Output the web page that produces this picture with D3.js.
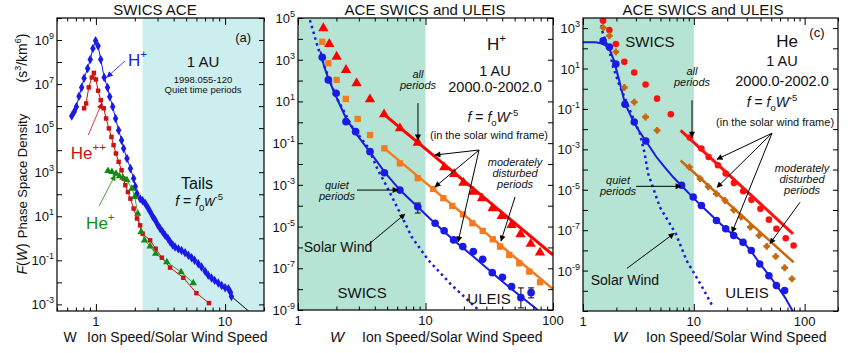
<!DOCTYPE html>
<html lang="en">
<head>
<meta charset="UTF-8"/>
<title>Phase Space Density - ACE SWICS and ULEIS</title>
<script src="https://d3js.org/d3.v7.min.js"></script>
<style>
	body { margin: 0; background: #FFFFFF; }
	svg text { font-family: "Liberation Sans", Arial, sans-serif; fill: #111; }
</style>
</head>
<body>
<div id="chart"></div>
<script>
	// all series: [W, log10 f]

	// panel (a) SWICS ACE
	var aHPlus = [[0.65,5.55],[0.68,5.75],[0.706,5.97],[0.74,6.45],[0.776,6.85],[0.81,7.27],[0.863,7.71],[0.904,8.12],[0.948,8.62],[0.995,8.97],[1.04,8.73],[1.09,8.12],[1.16,7.3],[1.23,6.85],[1.28,6.42],[1.35,5.97],[1.42,5.44],[1.50,4.91],[1.58,4.45],[1.64,4.08],[1.74,3.62],[1.85,3.17],[1.96,2.71],[2.02,2.35],[2.08,2.03],[2.2,1.8],[2.3,1.7],[2.41,1.58],[2.52,1.4],[2.63,1.2],[2.75,1.0],[2.88,0.82],[3.0,0.63],[3.14,0.44],[3.28,0.3],[3.43,0.14],[3.6,0.0],[3.76,-0.17],[3.93,-0.3],[4.1,-0.4],[4.35,-0.48],[4.6,-0.55],[4.9,-0.66],[5.2,-0.77],[5.5,-0.88],[5.8,-1.0],[6.2,-1.15],[6.57,-1.3],[7.0,-1.5],[7.4,-1.68],[7.85,-1.8],[8.3,-1.91],[8.85,-2.03],[9.4,-2.14],[10.0,-2.24],[10.6,-2.29],[11.0,-2.45],[11.2,-2.64]];
	var aHe2 = [[0.81,5.9],[0.84,6.12],[0.88,6.85],[0.93,7.3],[0.965,7.51],[1.0,7.21],[1.04,6.7],[1.09,6.27],[1.15,5.9],[1.2,5.44],[1.26,4.99],[1.32,4.6],[1.37,4.23],[1.43,3.85],[1.5,3.47],[1.58,3.09],[1.64,2.71],[1.69,2.41],[1.77,2.1],[1.85,1.8],[1.96,1.35],[2.08,0.9],[2.2,0.59],[2.3,0.21],[2.63,-0.09],[2.9,-0.47],[3.24,-0.88],[3.75,-1.33],[4.75,-1.79],[6.0,-2.49],[7.5,-2.94]];
	var aHePlus = [[1.24,3.06],[1.33,3.02],[1.43,2.94],[1.52,2.82],[1.62,2.75],[1.74,2.64],[1.9,2.26],[2.0,1.88],[2.11,1.12],[2.24,0.29],[2.38,-0.09],[2.63,-0.36],[2.9,-0.7],[3.54,-1.08],[4.56,-1.53],[5.67,-2.03]];
	var aTail = [[11.2,-2.64],[20,-3.9]];

	// panel (b) H+
	var bQuiet = [[1.55,3.12],[1.73,2.03],[1.99,1.39],[2.38,0.03],[2.83,-0.45],[3.67,-1.41],[4.76,-2.42],[6.3,-3.25],[8.7,-4.05],[11.9,-4.84],[14.0,-5.2],[16.6,-5.64],[19.6,-5.96],[23.7,-6.2],[28.1,-6.57],[33.4,-7.21],[40.1,-7.43],[47.3,-7.88],[56,-8.41],[67.3,-8.17]];
	var bQuietFit = [[1.5,3.4],[1.6,2.7],[1.73,2.1],[2.0,1.2],[2.4,0.15],[2.9,-0.6],[3.7,-1.45],[4.8,-2.4],[6.3,-3.25],[8.5,-4.0],[11.9,-4.85],[17,-5.7],[25,-6.55],[37,-7.45],[52,-8.2],[76,-9.0]];
	var bSolarWind = [[1.24,4.9],[1.43,3.6],[1.72,2.2],[2.0,1.2],[2.65,-0.2],[3.54,-1.2],[4.24,-2.3],[4.8,-2.9],[5.77,-3.87],[6.5,-4.5],[7.8,-5.5],[10.5,-6.6],[16,-7.8],[25,-8.9],[27,-9.1]];
	var bErrors = [[8.7,-4.35,-3.87],[56,-8.9,-7.94],[67.3,-8.42,-7.94]];
	var bModerate = [[1.55,3.86],[1.73,2.83],[2.01,2.03],[2.37,1.12],[2.94,0.16],[3.67,-0.61],[4.76,-1.25],[6.3,-1.97],[8.7,-2.68],[11.5,-3.2],[13.8,-3.64],[16.2,-4.01],[19.7,-4.42],[23.3,-4.84],[28.1,-5.21],[33.7,-5.61],[38.4,-5.96],[45.4,-6.36],[54.4,-6.76],[65.2,-7.16],[79.1,-7.67]];
	var bModerateFit = [[4.76,-1.25],[100,-8.0]];
	var bAll = [[1.58,4.51],[1.76,3.75],[2.01,3.14],[2.38,2.51],[2.88,1.87],[3.67,1.1],[4.73,0.38],[6.3,-0.29],[8.7,-0.98],[14.0,-2.16],[16.8,-2.48],[19.8,-2.9],[23.7,-3.33],[27.7,-3.64],[33.6,-4.12],[39.6,-4.49],[47.3,-4.92],[55.6,-5.37],[66.9,-5.83],[79,-6.25]];
	var bAllFit = [[4.73,0.38],[100,-6.36]];

	// panel (c) He
	var cQuiet = [[1.52,2.37],[1.73,2.07],[1.98,1.22],[2.39,-0.77],[2.9,-1.65],[3.69,-2.59],[7.75,-4.78],[9.88,-5.36],[11.7,-5.78],[16.0,-6.52],[19.4,-6.93],[22.9,-7.26],[27.8,-7.6],[33.0,-8.0],[39.3,-8.67],[47.6,-9.25],[55.6,-9.74],[66.0,-9.99]];
	var cQuietFit = [[1,2.3],[1.3,2.3],[1.45,2.25],[1.6,2.15],[1.75,1.9],[1.9,1.4],[2.1,0.5],[2.4,-0.75],[2.9,-1.7],[3.3,-2.2],[3.7,-2.6],[4.6,-3.38],[5.5,-3.9],[6.5,-4.37],[7.75,-4.8],[9.9,-5.4],[12,-5.85],[16,-6.5],[20,-7.0],[28,-7.6],[33,-8.05],[40,-8.7],[48,-9.25],[56,-9.75],[66,-10.3],[78,-11.0]];
	var cSolarWind = [[1.45,3.45],[1.5,2.8],[1.75,1.75],[1.87,1.08],[2.1,0.26],[2.65,-1.07],[3.26,-2.22],[3.6,-3.2],[3.87,-4.2],[4.94,-5.86],[6.88,-7.18],[8.6,-8.5],[11.7,-9.74],[14.9,-10.8]];
	var cAll = [[1.52,3.36],[1.73,2.9],[1.98,2.21],[2.36,1.33],[2.9,0.8],[3.67,0.21],[4.66,-0.49],[6.2,-1.26],[9.2,-2.42],[11.7,-2.96],[13.6,-3.38],[16.5,-3.79],[19.4,-4.2],[23.0,-4.67],[27.9,-5.07],[33.1,-5.5],[39.9,-5.94],[47.6,-6.48],[55.6,-6.93],[67.5,-7.4],[79.5,-7.76]];
	var cAllFit = [[7.6,-2.06],[78.5,-7.18]];
	var cModerate = [[1.52,3.02],[1.73,2.62],[1.98,1.82],[2.36,0.06],[2.9,-0.66],[3.67,-1.4],[4.66,-2.06],[9.1,-3.88],[11.4,-4.45],[13.5,-4.85],[16,-5.2],[19.1,-5.53],[22.9,-6.0],[26.8,-6.35],[32.4,-6.85],[38.8,-7.26],[45.5,-7.8],[54.8,-8.3],[66,-8.86],[76.8,-9.41]];
	var cModerateFit = [[7.6,-3.55],[79.5,-8.59]];

	// axis tick labels (exponents of 10)
	var aYLabels = [9, 7, 5, 3, 1, -1, -3];
	var bYLabels = [5, 3, 1, -1, -3, -5, -7, -9];
	var cYLabels = [3, 1, -1, -3, -5, -7, -9];
	var aXLabels = [1, 10];
	var bcXLabels = [1, 10, 100];

	var w = 859, h = 353;
	var svg = d3.select("#chart").append("svg").attr("width", w).attr("height", h);

	// arrow heads
	var defs = svg.append("defs");
	[["k", "#000"], ["blue", "#1a1ae6"], ["red", "#cc1111"], ["green", "#138a13"]].forEach(function (m) {
		defs.append("marker").attr("id", "ah-" + m[0])
			.attr("viewBox", "0 0 10 10").attr("refX", 9).attr("refY", 5)
			.attr("markerWidth", 8).attr("markerHeight", 6).attr("markerUnits", "userSpaceOnUse")
			.attr("orient", "auto")
			.append("path").attr("d", "M0,0 L10,5 L0,10 z").attr("fill", m[1]);
	});

	function pow10(v) { return Math.pow(10, v); }

	// sets up one panel: scales, shading, clip
	function makePanel(o) {
		var x = d3.scaleLog().domain(o.xd).range([o.x0, o.x1]);
		var y = d3.scaleLog().domain(o.yd).range([o.y1, o.y0]);
		var g = svg.append("g");
		defs.append("clipPath").attr("id", "clip-" + o.id)
			.append("rect").attr("x", o.x0).attr("y", o.y0).attr("width", o.x1 - o.x0).attr("height", o.y1 - o.y0);
		g.append("rect")
			.attr("x", x(o.shade[0])).attr("y", o.y0)
			.attr("width", x(o.shade[1]) - x(o.shade[0])).attr("height", o.y1 - o.y0)
			.attr("fill", o.shadeColor);
		var plot = g.append("g").attr("clip-path", "url(#clip-" + o.id + ")");
		var p = { o: o, x: x, y: y, g: g, plot: plot };
		p.px = function (d) { return x(d[0]); };
		p.py = function (d) { return y(pow10(d[1])); };
		return p;
	}

	// frame, inward ticks and labels
	function drawAxes(p, yLabels, xLabels) {
		var o = p.o, g = p.g;
		var e0 = Math.ceil(Math.log10(o.yd[0]) - 1e-9), e1 = Math.floor(Math.log10(o.yd[1]) + 1e-9);
		var yTicks = d3.range(e0, e1 + 1).map(pow10);
		g.append("g").attr("transform", "translate(" + o.x0 + ",0)")
			.call(d3.axisLeft(p.y).tickValues(yTicks).tickSizeInner(-5).tickSizeOuter(0).tickFormat(""));
		g.append("g").attr("transform", "translate(" + o.x1 + ",0)")
			.call(d3.axisRight(p.y).tickValues(yTicks).tickSizeInner(-5).tickSizeOuter(0).tickFormat(""));
		var xMajor = [], xMinor = [];
		for (var e = -1; e <= 2; e++) {
			for (var k = 1; k < 10; k++) {
				var v = k * pow10(e);
				if (v < o.xd[0] - 1e-9 || v > o.xd[1] + 1e-9) continue;
				(k === 1 ? xMajor : xMinor).push(v);
			}
		}
		[[o.y1, d3.axisBottom], [o.y0, d3.axisTop]].forEach(function (s) {
			g.append("g").attr("transform", "translate(0," + s[0] + ")")
				.call(s[1](p.x).tickValues(xMajor).tickSizeInner(-7).tickSizeOuter(0).tickFormat(""));
			g.append("g").attr("transform", "translate(0," + s[0] + ")")
				.call(s[1](p.x).tickValues(xMinor).tickSizeInner(-3.5).tickSizeOuter(0).tickFormat(""));
		});
		g.selectAll(".domain").remove();
		g.selectAll(".tick line").attr("stroke", "#000").attr("stroke-width", 1);
		g.append("rect").attr("x", o.x0).attr("y", o.y0).attr("width", o.x1 - o.x0).attr("height", o.y1 - o.y0)
			.attr("fill", "none").attr("stroke", "#000").attr("stroke-width", 1.2);

		yLabels.forEach(function (e) {
			var t = g.append("text").attr("text-anchor", "end")
				.attr("x", o.x0 - 3).attr("y", p.y(pow10(e)) + 5).attr("font-size", 13);
			t.append("tspan").text("10");
			t.append("tspan").attr("dy", -6).attr("font-size", 9).text(e < 0 ? "-" + (-e) : e);
		});
		xLabels.forEach(function (v) {
			g.append("text").attr("text-anchor", "middle")
				.attr("x", p.x(v)).attr("y", o.y1 + 15).attr("font-size", 13).text(v);
		});
	}

	function drawLine(p, data, color, width, dash) {
		p.plot.append("path").datum(data)
			.attr("d", d3.line().x(p.px).y(p.py))
			.attr("fill", "none").attr("stroke", color).attr("stroke-width", width)
			.attr("stroke-dasharray", dash || null);
	}

	function drawSymbols(p, data, type, size, color) {
		p.plot.selectAll(null).data(data).enter().append("path")
			.attr("transform", function (d) { return "translate(" + p.px(d) + "," + p.py(d) + ")"; })
			.attr("d", d3.symbol().type(type).size(size))
			.attr("fill", color);
	}

	// text placed in data space; sup = superscript, sub = subscript parts
	function label(p, at, parts, size, anchor, color, italic) {
		var t = p.g.append("text").attr("x", p.x(at[0])).attr("y", p.y(pow10(at[1])))
			.attr("font-size", size).attr("text-anchor", anchor || "middle")
			.attr("font-style", italic ? "italic" : null);
		if (color) t.style("fill", color);
		var shift = 0;
		parts.forEach(function (s) {
			var ts = t.append("tspan").text(s[0]);
			var target = s[1] === "sup" ? -size * 0.45 : s[1] === "sub" ? size * 0.3 : 0;
			if (target !== shift) { ts.attr("dy", target - shift); shift = target; }
			if (s[1]) ts.attr("font-size", size * 0.68);
			if (s[2]) ts.attr("font-style", "italic");
		});
		return t;
	}

	function arrow(p, from, to, color, marker, width) {
		p.g.append("line")
			.attr("x1", p.x(from[0])).attr("y1", p.y(pow10(from[1])))
			.attr("x2", p.x(to[0])).attr("y2", p.y(pow10(to[1])))
			.attr("stroke", color).attr("stroke-width", width || 1)
			.attr("marker-end", marker ? "url(#ah-" + marker + ")" : null);
	}

	// ---------- panel (a) ----------
	var pa = makePanel({ id: "a", x0: 57, x1: 264, y0: 18, y1: 311, xd: [0.5, 20], yd: [pow10(-3.3), 1e10],
		shade: [2.3, 20], shadeColor: "#cdeeee" });
	drawLine(pa, aTail, "#000", 1);
	drawLine(pa, aHe2, "#cc1111", 1);
	drawLine(pa, aHePlus, "#138a13", 0.8);
	drawLine(pa, aHPlus, "#1a1ae6", 1);
	drawSymbols(pa, aHPlus, d3.symbolDiamond, 26, "#1a1ae6");
	drawSymbols(pa, aHe2, d3.symbolSquare, 20, "#cc1111");
	drawSymbols(pa, aHePlus, d3.symbolTriangle, 24, "#138a13");
	drawAxes(pa, aYLabels, aXLabels);

	label(pa, [1.77, 7.82], [["H"], ["+", "sup"]], 17, "start", "#1a1ae6");
	arrow(pa, [1.68, 8.05], [1.22, 7.32], "#1a1ae6", "blue", 0.8);
	label(pa, [0.64, 3.6], [["He"], ["++", "sup"]], 17, "start", "#cc1111");
	arrow(pa, [0.874, 4.69], [1.11, 6.13], "#cc1111", "red", 0.8);
	label(pa, [0.84, 0.42], [["He"], ["+", "sup"]], 17, "start", "#138a13");
	arrow(pa, [1.06, 1.47], [1.41, 2.87], "#138a13", "green", 0.8);
	label(pa, [13.8, 8.91], [["(a)"]], 13);
	label(pa, [6.75, 7.76], [["1 AU"]], 15);
	label(pa, [6.75, 7.06], [["1998.055-120"]], 9.5);
	label(pa, [6.75, 6.6], [["Quiet time periods"]], 9.5);
	label(pa, [6.06, 2.24], [["Tails"]], 16);
	label(pa, [6.3, 1.45], [["f", null, 1], [" = "], ["f", null, 1], ["0", "sub"], ["w", null, 1], ["-5", "sup"]], 14);

	svg.append("text").attr("x", 155).attr("y", 15).attr("text-anchor", "middle").attr("font-size", 15).text("SWICS  ACE");
	svg.append("text").attr("x", 70).attr("y", 342).attr("text-anchor", "middle").attr("font-size", 14).text("W");
	svg.append("text").attr("x", 87).attr("y", 342).attr("font-size", 14).text("Ion Speed/Solar Wind Speed");

	// y label of panel (a), three spread pieces
	function rotText(cy, size) {
		return svg.append("text").attr("transform", "translate(27," + cy + ") rotate(-90)")
			.attr("text-anchor", "middle").attr("font-size", size);
	}
	var yl1 = rotText(259, 14);
	yl1.append("tspan").attr("font-style", "italic").text("F");
	yl1.append("tspan").text("(");
	yl1.append("tspan").attr("font-style", "italic").text("W");
	yl1.append("tspan").text(")");
	rotText(176, 13).text("Phase Space Density");
	var yl3 = rotText(58, 14);
	yl3.append("tspan").text("(s");
	yl3.append("tspan").attr("dy", -6).attr("font-size", 9).text("3");
	yl3.append("tspan").attr("dy", 6).text("/km");
	yl3.append("tspan").attr("dy", -6).attr("font-size", 9).text("6");
	yl3.append("tspan").attr("dy", 6).text(")");

	// ---------- panel (b) ----------
	var pb = makePanel({ id: "b", x0: 298, x1: 553, y0: 18, y1: 310, xd: [1, 100], yd: [1e-9, 1e5],
		shade: [1, 10], shadeColor: "#b6e4d4" });
	drawLine(pb, bSolarWind, "#1a1ae6", 2.5, "2.5,3.5");
	drawLine(pb, bQuietFit, "#1a1ae6", 2);
	drawLine(pb, bModerateFit, "#f47a20", 2.5);
	drawLine(pb, bAllFit, "#ff0000", 3);
	pb.plot.selectAll(null).data(bErrors).enter().append("path")
		.attr("d", function (d) {
			var x = pb.x(d[0]), ya = pb.y(pow10(d[1])), yb = pb.y(pow10(d[2]));
			return "M" + x + "," + ya + "V" + yb + "M" + (x - 3) + "," + ya + "h6M" + (x - 3) + "," + yb + "h6";
		})
		.attr("stroke", "#000").attr("stroke-width", 1).attr("fill", "none");
	drawSymbols(pb, bQuiet, d3.symbolCircle, 46, "#1a1ae6");
	drawSymbols(pb, bModerate, d3.symbolSquare, 40, "#f47a20");
	drawSymbols(pb, bAll, d3.symbolTriangle, 46, "#ff0000");
	drawAxes(pb, bYLabels, bcXLabels);

	label(pb, [30.4, 3.47], [["H"], ["+", "sup"]], 17, "start");
	label(pb, [35.1, 2.2], [["1 AU"]], 14.5);
	label(pb, [35.1, 1.44], [["2000.0-2002.0"]], 14.5);
	label(pb, [33.8, 0.01], [["f", null, 1], [" = "], ["f", null, 1], ["o", "sub"], ["W", null, 1], ["-5", "sup"]], 14);
	label(pb, [31.5, -0.8], [["(in the solar wind frame)"]], 11);
	label(pb, [8.73, 2.12], [["all"]], 11, "middle", null, true);
	label(pb, [8.73, 1.6], [["periods"]], 11, "middle", null, true);
	arrow(pb, [8.73, 0.92], [8.73, -0.85], "#000", "k");
	label(pb, [50.4, -2.1], [["moderately"]], 11, "middle", null, true);
	label(pb, [50.4, -2.62], [["disturbed"]], 11, "middle", null, true);
	label(pb, [50.4, -3.15], [["periods"]], 11, "middle", null, true);
	arrow(pb, [26.3, -1.33], [11.87, -1.57], "#000", "k");
	arrow(pb, [26.3, -1.33], [11.87, -3.1], "#000", "k");
	arrow(pb, [26.3, -1.33], [18.0, -5.74], "#000", "k");
	arrow(pb, [50.4, -3.58], [39.1, -5.69], "#000", "k");
	label(pb, [2.02, -3.2], [["quiet"]], 11, "middle", null, true);
	label(pb, [2.02, -3.73], [["periods"]], 11, "middle", null, true);
	arrow(pb, [2.9, -3.25], [6.09, -3.25], "#000", "k");
	label(pb, [2.06, -6.22], [["Solar Wind"]], 14);
	arrow(pb, [3.54, -5.88], [6.9, -4.4], "#000", "k");
	label(pb, [3.18, -8.42], [["SWICS"]], 15);
	label(pb, [31.5, -8.71], [["ULEIS"]], 15);

	svg.append("text").attr("x", 425).attr("y", 15).attr("text-anchor", "middle").attr("font-size", 15).text("ACE SWICS and ULEIS");
	svg.append("text").attr("x", 337).attr("y", 342).attr("text-anchor", "middle").attr("font-size", 15)
		.attr("font-style", "italic").text("W");
	svg.append("text").attr("x", 362).attr("y", 342).attr("font-size", 14).text("Ion Speed/Solar Wind Speed");

	// ---------- panel (c) ----------
	var pc = makePanel({ id: "c", x0: 583, x1: 838, y0: 18, y1: 311, xd: [1, 200], yd: [1e-11, pow10(3.5)],
		shade: [1, 10], shadeColor: "#b6e4d4" });
	drawLine(pc, cSolarWind, "#1a1ae6", 2.5, "2.5,3.5");
	drawLine(pc, cQuietFit, "#1a1ae6", 2);
	drawLine(pc, cModerateFit, "#c8680f", 2.5);
	drawLine(pc, cAllFit, "#ff1010", 3);
	drawSymbols(pc, cQuiet, d3.symbolCircle, 44, "#1a1ae6");
	drawSymbols(pc, cAll, d3.symbolCircle, 34, "#ff1010");
	drawSymbols(pc, cModerate, d3.symbolCircle, 20, "#c8680f");
	drawSymbols(pc, cModerate, d3.symbolCross, 26, "#c8680f");
	drawAxes(pc, cYLabels, bcXLabels);

	label(pc, [4.02, 2.06], [["SWICS"]], 15);
	label(pc, [69.4, 2.06], [["He"]], 17);
	label(pc, [129, 2.56], [["(c)"]], 13);
	label(pc, [62.5, 1.1], [["1 AU"]], 14.5);
	label(pc, [62.5, 0.12], [["2000.0-2002.0"]], 14.5);
	label(pc, [50.8, -0.91], [["f", null, 1], [" = "], ["f", null, 1], ["o", "sub"], ["W", null, 1], ["-5", "sup"]], 14);
	label(pc, [54.1, -1.85], [["(in the solar wind frame)"]], 11);
	label(pc, [9.63, 0.67], [["all"]], 11, "middle", null, true);
	label(pc, [9.63, 0.13], [["periods"]], 11, "middle", null, true);
	arrow(pc, [9.63, -0.57], [9.63, -2.4], "#000", "k");
	label(pc, [94.8, -4.1], [["moderately"]], 11, "middle", null, true);
	label(pc, [94.8, -4.65], [["disturbed"]], 11, "middle", null, true);
	label(pc, [94.8, -5.2], [["periods"]], 11, "middle", null, true);
	arrow(pc, [50.8, -2.2], [16.2, -3.49], "#000", "k");
	arrow(pc, [50.8, -2.2], [16.2, -4.88], "#000", "k");
	arrow(pc, [50.8, -2.2], [22.1, -7.11], "#000", "k");
	arrow(pc, [90.8, -5.62], [48.7, -7.66], "#000", "k");
	label(pc, [2.07, -4.73], [["quiet"]], 11, "middle", null, true);
	label(pc, [2.07, -5.28], [["periods"]], 11, "middle", null, true);
	arrow(pc, [3.01, -4.83], [7.66, -4.83], "#000", "k");
	label(pc, [2.39, -9.69], [["Solar Wind"]], 14);
	arrow(pc, [2.49, -8.89], [6.63, -7.16], "#000", "k");
	label(pc, [30.2, -10.38], [["ULEIS"]], 15);

	svg.append("text").attr("x", 703).attr("y", 15).attr("text-anchor", "middle").attr("font-size", 15).text("ACE SWICS and ULEIS");
	svg.append("text").attr("x", 620).attr("y", 342).attr("text-anchor", "middle").attr("font-size", 15)
		.attr("font-style", "italic").text("W");
	svg.append("text").attr("x", 646).attr("y", 342).attr("font-size", 14).text("Ion Speed/Solar Wind Speed");
</script>
</body>
</html>
